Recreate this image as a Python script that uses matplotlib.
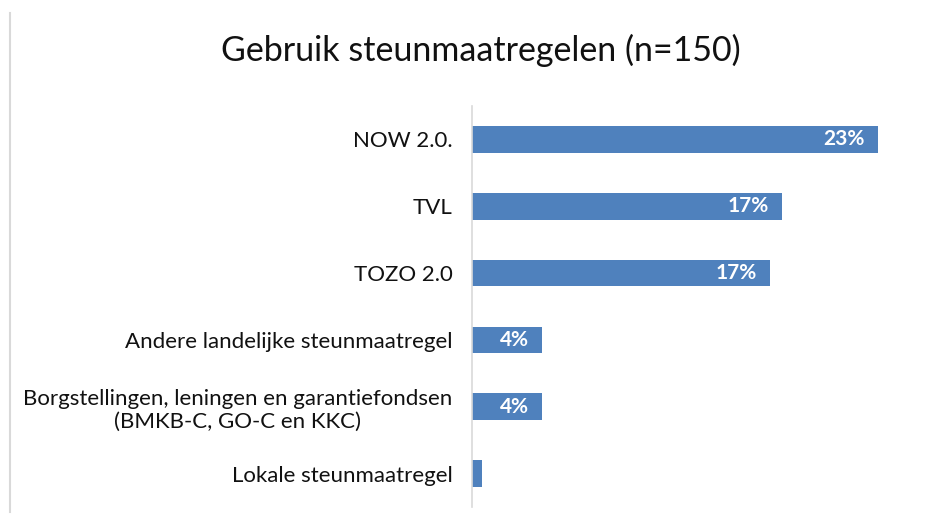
import matplotlib.pyplot as plt
from matplotlib.lines import Line2D

# data
categories = [
    "NOW 2.0.",
    "TVL",
    "TOZO 2.0",
    "Andere landelijke steunmaatregel",
    "Borgstellingen, leningen en garantiefondsen\n(BMKB-C, GO-C en KKC)",
    "Lokale steunmaatregel",
]
percentages = [23.3, 17.8, 17.1, 4.0, 4.0, 0.6]
value_labels = ["23%", "17%", "17%", "4%", "4%", ""]

title = "Gebruik steunmaatregelen (n=150)"
bar_color = "#4F81BD"

plt.rcParams["font.family"] = ["Lato", "DejaVu Sans"]


def plot_bars(output_file):
    fig = plt.figure(figsize=(9.35, 5.22), dpi=100)
    ax = fig.add_axes([472 / 935, 1 - 507 / 522, 448 / 935, 401 / 522])

    y = list(range(len(categories)))
    ax.barh(y, percentages, height=0.4, color=bar_color)

    for yi, val, lab in zip(y, percentages, value_labels):
        if lab:
            ax.text(val - 0.75, yi, lab, ha="right", va="center",
                    color="white", fontsize=15, fontweight="bold")

    ax.set_yticks(y)
    ax.set_yticklabels(categories, fontsize=16, color="#111111",
                       multialignment="center", linespacing=1.2)
    ax.tick_params(axis="y", length=0, pad=14)
    ax.set_xticks([])
    ax.set_xlim(0, 25.7)
    ax.set_ylim(5.5, -0.5)

    for side in ["top", "right", "bottom"]:
        ax.spines[side].set_visible(False)
    ax.spines["left"].set_color("#d9d9d9")
    ax.spines["left"].set_linewidth(1.2)

    fig.text(481 / 935, 1 - 50 / 522, title, ha="center", va="center",
             fontsize=24.5, color="#111111")

    # thin grey border line at the left edge of the picture
    fig.add_artist(Line2D([10 / 935, 10 / 935], [1 - 13 / 522, 1 - 512 / 522],
                          transform=fig.transFigure, color="#d9d9d9", lw=1.5))

    fig.savefig(output_file, dpi=100, facecolor="white")
    plt.close(fig)


if __name__ == "__main__":
    plot_bars("out.png")
